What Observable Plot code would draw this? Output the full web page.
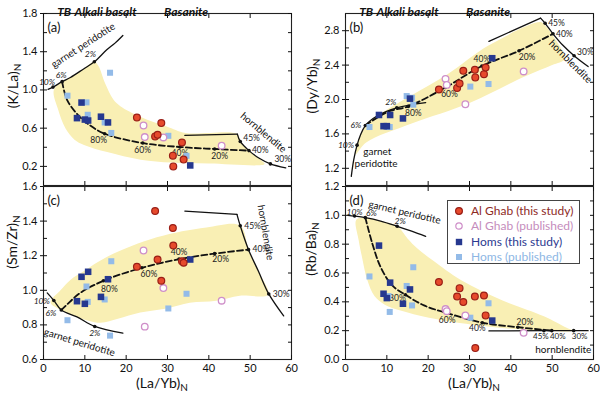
<!DOCTYPE html>
<html><head><meta charset="utf-8">
<script src="https://cdn.jsdelivr.net/npm/d3@7"></script>
<script src="https://cdn.jsdelivr.net/npm/@observablehq/plot@0.6"></script>
<style>
body{margin:0;background:#fff;}
#chart{position:relative;width:600px;height:396px;overflow:hidden;font-family:Lato,"Open Sans",sans-serif;color:#111;}
.panel{position:absolute;}
.ytitle{position:absolute;transform:translate(-50%,-50%) rotate(-90deg);font-size:14px;white-space:nowrap;}
.xtitle{position:absolute;transform:translate(-50%,-50%);font-size:14px;white-space:nowrap;}
.ytitle sub,.xtitle sub{font-size:10px;vertical-align:-3px;line-height:0;}
#legend{position:absolute;left:447px;top:200px;width:133px;height:64px;border:1px solid #444;box-sizing:border-box;background:#fff;font-size:12px;}
#legend .row{position:absolute;left:0;height:15px;line-height:15px;white-space:nowrap;}
#legend svg{position:absolute;left:6px;top:3px;}
#legend span{position:absolute;left:23px;top:0;}
</style></head>
<body><div id="chart"></div>
<script>
// ---------- sample data: (La/Yb)N shared across panels ----------
const alGhabX   = [22.6, 27.0, 27.6, 28.5, 31.3, 31.4, 33.5, 33.9];
const alGhabKLa = [0.712, 0.514, 0.53, 0.653, 0.3125, 0.2, 0.45, 0.271];
const alGhabDyYb= [2.117, 2.135, 2.185, 2.333, 2.345, 2.257, 2.295, 2.371];
const alGhabSmZr= [1.136, 1.458, 1.178, 1.055, 1.36, 1.259, 1.168, 1.159];
const alGhabRbBa= [0.537, 0.4375, 0.495, 0.398, 0.4375, 0.079, 0.444, 0.306];

const alGhabPubX   = [24.2, 24.5, 29.0, 43.1];
const alGhabPubKLa = [0.628, 0.507, 0.503, 0.417];
const alGhabPubDyYb= [2.24, 2.17, 1.945, 2.326];
const alGhabPubSmZr= [1.23, 0.79, 1.013, 0.94];
const alGhabPubRbBa= [0.35, 0.335, 0.306, 0.185];

const homsX   = [8.1, 9.2, 10.0, 10.8, 13.9, 15.6, 35.5];
const homsKLa = [0.705, 0.868, 0.69, 0.68, 0.72, 0.66, 0.21];
const homsDyYb= [1.82, 1.69, 1.69, 1.82, 1.78, 2.01, 2.48];
const homsSmZr= [0.937, 1.078, 0.922, 1.107, 0.962, 1.064, 1.178];
const homsRbBa= [0.79, 0.456, 0.426, 0.533, 0.387, 0.486, 0.27];

const homsPubX   = [5.8, 10.4, 10.7, 14.8, 16.1, 16.4, 30.2, 34.6];
const homsPubKLa = [0.94, 0.87, 0.74, 0.66, 1.18, 0.55, 0.52, 0.31];
const homsPubDyYb= [1.68, 1.68, 1.68, 2.04, 2.02, 1.94, 2.15, 2.18];
const homsPubSmZr= [0.827, 1.022, 0.933, 0.947, 0.738, 1.168, 0.895, 0.98];
const homsPubRbBa= [0.576, 0.44, 0.33, 0.51, 0.375, 0.64, 0.29, 0.39];

const seriesNames = ["Al Ghab (this study)", "Al Ghab (published)", "Homs (this study)", "Homs (published)"];
const rockTypes = ["TB", "Alkali basalt", "Basanite"];
const rockTypeX = [5, 15, 34.5];
const xTicks = [0, 10, 20, 30, 40, 50, 60];

// ---------- model curves ----------
const garnetA = [[1.1,1.007],[2.3,1.03],[4.5,1.087],[6.5,1.13],[9.7,1.22],[12.3,1.295],[15.3,1.42],[17.3,1.49],[19.2,1.57]];
const garnetNodesA = [[2.3,1.03,"10%"],[4.5,1.087,"6%"],[12.3,1.295,"2%"]];
const hbTopA = [[34.2,0.524],[46.9,0.538]];
const hbA = [[46.9,0.538],[47.6,0.461],[49.7,0.365],[52.2,0.285],[54.9,0.226],[58.6,0.184]];
const hbNodesA = [[47.6,0.461,"45%"],[49.7,0.365,"40%"],[54.9,0.226,"30%"]];
const mixA = [[4.5,1.087],[5.7,0.896],[8.3,0.74],[10.7,0.646],[14.8,0.542],[24.0,0.444],[33.0,0.403],[41.4,0.382],[49.7,0.365]];
const mixNodesA = [[14.8,0.542,"80%"],[24.0,0.444,"60%"],[33.0,0.403,"40%"],[41.4,0.382,"20%"]];
const shadeA = [[2.5,1.0],[4.5,1.087],[6.5,1.13],[9.7,1.22],[12.3,1.295],[13.3,1.25],[14.9,1.07],[16.9,0.9],[18.6,0.83],[23.4,0.72],[29.8,0.618],[34.4,0.55],[46.9,0.538],[47.6,0.461],[49.7,0.365],[52.5,0.27],[53.5,0.225],[40,0.23],[31,0.24],[23.5,0.27],[15.4,0.35],[9.8,0.425],[7.5,0.48],[5.3,0.6],[3.5,0.8]];

const garnetB = [[1.4,1.106],[2.0,1.30],[2.8,1.469],[3.6,1.583],[4.8,1.697],[7.7,1.811],[12.4,1.904],[19.4,1.964]];
const garnetNodesB = [[2.8,1.469,"10%"],[4.8,1.697,"6%"],[12.4,1.904,"2%"]];
const hbTopB = [[34.7,2.676],[47.2,2.946]];
const hbB = [[47.2,2.946],[48.3,2.886],[50.2,2.764],[52.6,2.63],[55.3,2.509],[58.7,2.383]];
const hbNodesB = [[48.3,2.886,"45%"],[50.2,2.764,"40%"],[55.3,2.509,"30%"]];
const mixB = [[4.8,1.697],[8,1.8],[11,1.87],[15.2,1.92],[24.2,2.14],[33,2.39],[42,2.566],[50.2,2.764]];
const mixNodesB = [[15.2,1.92,"80%"],[24.2,2.14,"60%"],[33,2.39,"40%"],[42,2.566,"20%"]];
const shadeB = [[2.4,1.36],[2.8,1.47],[4.8,1.7],[8.3,1.83],[16,2.05],[24.6,2.29],[34.7,2.63],[47.2,2.9],[48.3,2.86],[50.2,2.74],[53,2.47],[50,2.40],[43.5,2.27],[30,1.96],[16,1.72],[5,1.5]];

const garnetC = [[0.9,0.985],[2.5,0.941],[4.3,0.886],[8.1,0.846],[12.4,0.791],[19.2,0.752]];
const garnetNodesC = [[2.5,0.941,"10%"],[4.3,0.886,"6%"],[12.4,0.791,"2%"]];
const hbTopC = [[34.2,1.458],[46.8,1.439]];
const hbC = [[46.8,1.439],[47.6,1.373],[49.6,1.235],[52,1.11],[54.5,0.979],[58.1,0.852]];
const hbNodesC = [[47.6,1.373,"45%"],[49.6,1.235,"40%"],[54.5,0.979,"30%"]];
const mixC = [[4.3,0.886],[5.7,0.918],[8.9,0.985],[14.5,1.055],[23.8,1.13],[32.8,1.18],[41.4,1.212],[49.6,1.235]];
const mixNodesC = [[14.5,1.055,"80%"],[23.8,1.13,"60%"],[32.8,1.18,"40%"],[41.4,1.212,"20%"]];
const shadeC = [[1.7,0.93],[4.1,1.0],[6.5,1.06],[9.7,1.11],[15.3,1.193],[27.4,1.306],[39.4,1.363],[47.6,1.373],[49.6,1.235],[52,1.11],[54.3,0.975],[47.5,0.969],[41.8,0.94],[35.4,0.928],[29.8,0.895],[23.4,0.871],[18,0.835],[13.7,0.812],[8.1,0.846],[4.3,0.886]];

const garnetD = [[0.6,1.0],[2.2,0.995],[4.8,0.984],[8.5,0.96],[12.5,0.924],[16,0.89],[19.4,0.854]];
const garnetNodesD = [[2.2,0.995,"10%"],[4.8,0.984,"6%"],[12.5,0.924,"2%"]];
const hbTopD = [[34.7,0.198],[48.0,0.2]];
const hbD = [[48.0,0.2],[49.9,0.2],[55.2,0.2],[58.7,0.2]];
const hbNodesD = [[48.0,0.2,"45%"],[49.9,0.2,"40%"],[55.2,0.2,"30%"]];
const mixD = [[4.8,0.984],[6.5,0.803],[8.5,0.641],[11.3,0.514],[14.5,0.449],[19,0.375],[24.6,0.322],[33.1,0.255],[41.7,0.224],[49.9,0.2]];
const mixNodesD = [[14.5,0.449,"80%"],[24.6,0.322,"60%"],[33.1,0.255,"40%"],[41.7,0.224,"20%"]];
const shadeD = [[2.6,0.97],[4.8,0.984],[8.5,0.96],[12.5,0.924],[15,0.84],[17.4,0.77],[21,0.69],[28,0.55],[38,0.41],[48,0.30],[53.5,0.22],[55,0.2],[44.4,0.205],[32.3,0.236],[20.2,0.29],[13.3,0.34],[9.5,0.38],[7,0.44],[5.3,0.549],[4.0,0.71],[3.2,0.826]];

// ---------- styles ----------
const SHADE = "#f9efb4";
const RED = "#e64a2c", REDSTROKE = "#9a1e16", PINK = "#cf8fc9", DARKBLUE = "#26388f", LIGHTBLUE = "#93bbe8";
const LEGENDTEXT = ["#8e2a1f", "#c58cbc", "#2b3990", "#8db6e4"];
const FONT = "Lato, 'Open Sans', sans-serif";
const ROCK_WIDTHS = [12, 51, 36];

function rng(a, b, s) { return d3.range(Math.round((b - a) / s) + 1).map(i => +(a + i * s).toFixed(2)); }

function nodeLabels(nodes, offs, italic, size) {
  return nodes.map((n, i) => Plot.text([n], {
    x: d => d[0], y: d => d[1], text: d => d[2],
    dx: offs[i][0], dy: offs[i][1], textAnchor: offs[i][2],
    fontSize: size || 8.5, fontStyle: italic ? "italic" : "normal", fill: "#222"
  }));
}

function panel(cfg) {
  const pts = (xs, ys) => xs.map((x, i) => ({x, y: ys[i]}));
  const XY = {x: d => d[0], y: d => d[1]};
  const marks = [
    Plot.line(cfg.shade, {...XY, fill: SHADE, stroke: "none", curve: "catmull-rom-closed"}),
    Plot.line(cfg.garnet, {...XY, stroke: "#111", strokeWidth: 1.3, curve: "catmull-rom"}),
    Plot.line(cfg.hbTop, {...XY, stroke: "#111", strokeWidth: 1.3}),
    Plot.line(cfg.hb, {...XY, stroke: "#111", strokeWidth: 1.3, curve: "catmull-rom"}),
    Plot.line(cfg.mix, {...XY, stroke: "#111", strokeWidth: 1.8, strokeDasharray: "6,3", curve: "catmull-rom"}),
    Plot.dot([...cfg.garnetNodes, ...cfg.hbNodes, ...cfg.mixNodes], {...XY, r: 1.8, fill: "#111"}),
    ...nodeLabels(cfg.garnetNodes, cfg.gOff, true),
    ...nodeLabels(cfg.hbNodes, cfg.hOff, false, cfg.hSize),
    ...nodeLabels(cfg.mixNodes, cfg.mOff, false),
    ...cfg.names.map(n => Plot.text([n], {x: d => d[0], y: d => d[1], text: d => d[2], rotate: n[3], fontSize: 10, fill: "#111"})),
    Plot.dot(pts(homsPubX, cfg.homsPub), {x: "x", y: "y", symbol: "square", r: 3.4, fill: LIGHTBLUE}),
    Plot.dot(pts(homsX, cfg.homs), {x: "x", y: "y", symbol: "square", r: 3.7, fill: DARKBLUE}),
    Plot.dot(pts(alGhabPubX, cfg.alGhabPub), {x: "x", y: "y", r: 3.3, fill: "white", stroke: PINK, strokeWidth: 1.3}),
    Plot.dot(pts(alGhabX, cfg.alGhab), {x: "x", y: "y", r: 3.4, fill: RED, stroke: REDSTROKE, strokeWidth: 1.2}),
    Plot.frame({stroke: "#222", strokeWidth: 1.1}),
    Plot.axisY({anchor: "left", ticks: cfg.yMajor, tickSize: 0, tickPadding: 6, tickFormat: d => d.toFixed(1), fontSize: 11, label: null}),
    Plot.axisY({anchor: "left", ticks: cfg.yMajor, tickSize: 3, tickFormat: () => "", label: null}),
    Plot.axisY({anchor: "left", ticks: cfg.yAll, tickSize: -4, tickFormat: () => "", label: null}),
    Plot.axisY({anchor: "right", ticks: cfg.yAll, tickSize: -4, tickFormat: () => "", label: null}),
    Plot.axisX({anchor: "top", ticks: xTicks, tickSize: -4, tickFormat: () => "", label: null}),
    Plot.axisX({anchor: "bottom", ticks: xTicks, tickSize: -4, tickFormat: () => "", label: null}),
    Plot.text([cfg.letter], {frameAnchor: "top-left", text: d => d, dx: 4, dy: 9, textAnchor: "start", fontSize: 13, fill: "#111"})
  ];
  if (cfg.showX) marks.push(Plot.axisX({anchor: "bottom", ticks: xTicks, tickSize: 0, tickPadding: 5, fontSize: 11, label: null}));
  if (cfg.showTop) marks.push(Plot.text(rockTypes, {x: (d, i) => rockTypeX[i], frameAnchor: "top", text: d => d, dy: -6.5, fontSize: 12, fontWeight: "bold", fontStyle: "italic", fill: "#111", ariaLabel: "rocktypes"}));
  const svg = Plot.plot({
    width: 300, height: cfg.height,
    marginLeft: cfg.ml, marginRight: cfg.mr, marginTop: cfg.mt, marginBottom: cfg.mb,
    x: {domain: [0, 60]}, y: {domain: cfg.yDomain},
    style: {background: "transparent", overflow: "visible", fontFamily: FONT, color: "#111"},
    marks
  });
  // condense the rock-type labels to the reference's narrow type
  svg.querySelectorAll('g[aria-label="rocktypes"] text').forEach((t, i) => {
    t.setAttribute("textLength", ROCK_WIDTHS[i % 3]);
    t.setAttribute("lengthAdjust", "spacingAndGlyphs");
  });
  const div = document.createElement("div");
  div.className = "panel";
  div.style.left = cfg.left + "px"; div.style.top = cfg.top + "px";
  div.appendChild(svg);
  document.getElementById("chart").appendChild(div);
}

const topRow = {height: 200, mt: 13, mb: 15, top: 0, showTop: true, showX: false};
const botRow = {height: 210, mt: 0, mb: 37, top: 186, showTop: false, showX: true};
const leftCol = {left: 0, ml: 43, mr: 9};
const rightCol = {left: 300, ml: 45, mr: 7};

panel({...topRow, ...leftCol, letter: "(a)", yDomain: [0, 1.8], yMajor: [0.2, 0.6, 1.0, 1.4, 1.8], yAll: rng(0.2, 1.8, 0.2),
  shade: shadeA, garnet: garnetA, garnetNodes: garnetNodesA, hbTop: hbTopA, hb: hbA, hbNodes: hbNodesA, mix: mixA, mixNodes: mixNodesA,
  gOff: [[-6,-5,"middle"],[-1,-6,"middle"],[-4,-7,"middle"]], hOff: [[3,-3,"start"],[3,0,"start"],[4,-5,"start"]],
  mOff: [[-6,7,"middle"],[0,7,"middle"],[0,6,"middle"],[5,7,"middle"]],
  names: [[9.6,1.465,"garnet peridotite",-33],[53.2,0.554,"hornblendite",40]],
  alGhab: alGhabKLa, alGhabPub: alGhabPubKLa, homs: homsKLa, homsPub: homsPubKLa});

panel({...topRow, ...rightCol, letter: "(b)", yDomain: [1.0, 3.0], yMajor: [1.2, 1.6, 2.0, 2.4, 2.8], yAll: rng(1.2, 2.8, 0.2),
  shade: shadeB, garnet: garnetB, garnetNodes: garnetNodesB, hbTop: hbTopB, hb: hbB, hbNodes: hbNodesB, mix: mixB, mixNodes: mixNodesB,
  gOff: [[-3,0,"end"],[-4,0,"end"],[-6,-5,"middle"]], hOff: [[3,0,"start"],[3,0,"start"],[3,-3,"start"]],
  mOff: [[5,7,"middle"],[4,7,"middle"],[0,-7,"middle"],[8,6,"middle"]],
  names: [[7.7,1.39,"garnet",0],[7.4,1.255,"peridotite",0],[54.4,2.44,"hornblendite",45]],
  alGhab: alGhabDyYb, alGhabPub: alGhabPubDyYb, homs: homsDyYb, homsPub: homsPubDyYb});

panel({...botRow, ...leftCol, letter: "(c)", yDomain: [0.6, 1.6], yMajor: rng(0.6, 1.6, 0.2), yAll: rng(0.7, 1.5, 0.1),
  shade: shadeC, garnet: garnetC, garnetNodes: garnetNodesC, hbTop: hbTopC, hb: hbC, hbNodes: hbNodesC, mix: mixC, mixNodes: mixNodesC,
  gOff: [[-4,1,"end"],[-5,3,"end"],[0,7,"middle"]], hOff: [[4,0,"start"],[4,0,"start"],[4,0,"start"]],
  mOff: [[6,8,"middle"],[7,6,"middle"],[0,-7,"middle"],[6,6,"middle"]],
  names: [[8.7,0.698,"garnet peridotite",17],[53.7,1.334,"hornblendite",80]],
  alGhab: alGhabSmZr, alGhabPub: alGhabPubSmZr, homs: homsSmZr, homsPub: homsPubSmZr});

panel({...botRow, ...rightCol, letter: "(d)", yDomain: [0, 1.2], yMajor: rng(0, 1.2, 0.2), yAll: rng(0.1, 1.1, 0.1),
  shade: shadeD, garnet: garnetD, garnetNodes: garnetNodesD, hbTop: hbTopD, hb: hbD, hbNodes: hbNodesD, mix: mixD, mixNodes: mixNodesD,
  gOff: [[0,-4,"middle"],[6,-4,"middle"],[3,-5,"middle"]], hOff: [[-3,6,"middle"],[6,6,"middle"],[6,6,"middle"]], hSize: 8,
  mOff: [[-8,3,"middle"],[0,7,"middle"],[-5,6,"middle"],[7,-5,"middle"]],
  names: [[14.3,1.02,"garnet peridotite",13],[52.7,0.066,"hornblendite",0]],
  alGhab: alGhabRbBa, alGhabPub: alGhabPubRbBa, homs: homsRbBa, homsPub: homsPubRbBa});

// ---------- axis titles ----------
const chart = document.getElementById("chart");
function title(cls, html, x, y) {
  const d = document.createElement("div"); d.className = cls; d.innerHTML = html;
  d.style.left = x + "px"; d.style.top = y + "px"; chart.appendChild(d);
}
title("ytitle", "(K/La)<sub>N</sub>", 12, 86);
title("ytitle", "(Dy/Yb)<sub>N</sub>", 311, 86);
title("ytitle", "(Sm/Zr)<sub>N</sub>", 11, 242);
title("ytitle", "(Rb/Ba)<sub>N</sub>", 310, 249);
title("xtitle", "(La/Yb)<sub>N</sub>", 162, 382);
title("xtitle", "(La/Yb)<sub>N</sub>", 474, 382);

// ---------- legend ----------
const lg = document.createElement("div"); lg.id = "legend"; chart.appendChild(lg);
const markers = [
  '<circle cx="5" cy="5" r="3.4" fill="' + RED + '" stroke="' + REDSTROKE + '" stroke-width="1.2"/>',
  '<circle cx="5" cy="5" r="3.2" fill="white" stroke="' + PINK + '" stroke-width="1.2"/>',
  '<rect x="1.8" y="1.8" width="6.4" height="6.4" fill="' + DARKBLUE + '"/>',
  '<rect x="2" y="2" width="6" height="6" fill="' + LIGHTBLUE + '"/>'
];
seriesNames.forEach((name, i) => {
  const r = document.createElement("div"); r.className = "row"; r.style.top = (2 + i * 15.3) + "px";
  r.innerHTML = '<svg width="10" height="10">' + markers[i] + '</svg><span style="color:' + LEGENDTEXT[i] + '">' + name + '</span>';
  lg.appendChild(r);
});
</script>
</body></html>
